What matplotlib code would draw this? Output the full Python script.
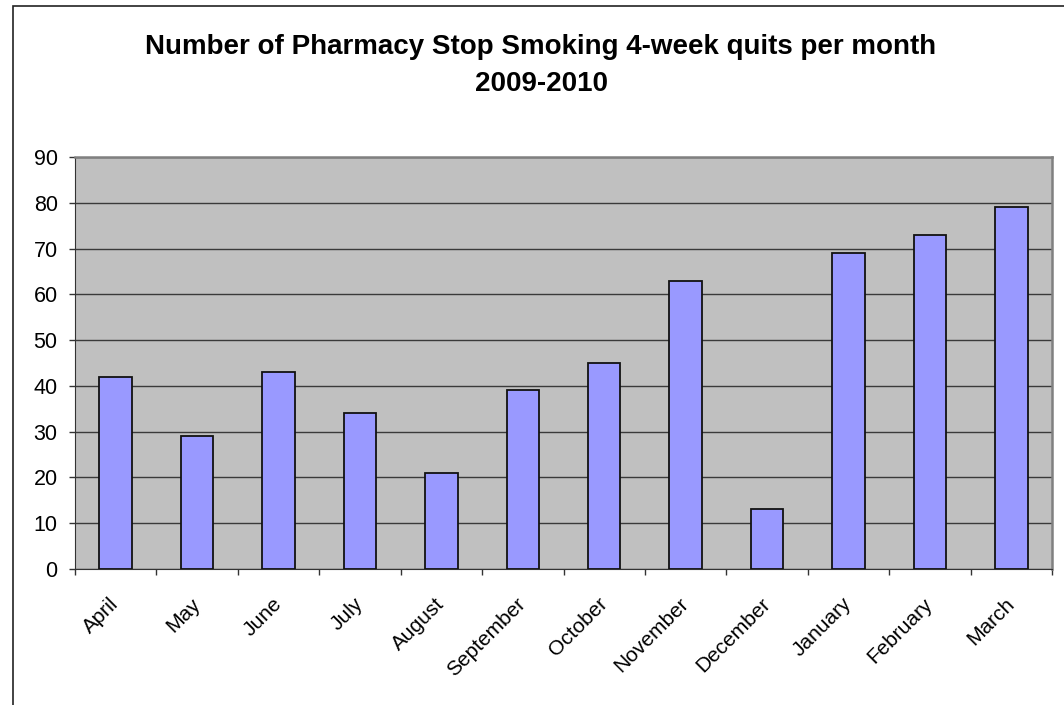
import matplotlib
matplotlib.use("Agg")
import matplotlib.pyplot as plt
import matplotlib.transforms as mtransforms
from matplotlib.patches import Rectangle
from matplotlib.ticker import FixedLocator, NullFormatter

months = ["April", "May", "June", "July", "August", "September",
          "October", "November", "December", "January", "February", "March"]
quits = [42, 29, 43, 34, 21, 39, 45, 63, 13, 69, 73, 79]
yticks = list(range(0, 91, 10))

plt.rcParams["font.family"] = ["Liberation Sans", "DejaVu Sans"]

W, H = 1064, 705
fig = plt.figure(figsize=(W / 100, H / 100), dpi=100)

# outer chart frame (right and bottom edges fall outside the image)
fig.patches.append(Rectangle((13 / W, -0.05), 1.1, 1.05 - 6 / H,
                             transform=fig.transFigure, fill=False,
                             edgecolor="#222222", linewidth=1.2))

ax = fig.add_axes([75 / W, 1 - 569 / H, (1052 - 75) / W, (569 - 157) / H])
ax.set_facecolor("#c0c0c0")
x = list(range(len(months)))
ax.bar(x, quits, width=0.4, color="#9999ff", edgecolor="#111111",
       linewidth=1.3, zorder=3)

ax.set_xlim(-0.5, len(months) - 0.5)
ax.set_ylim(0, 90)
ax.set_yticks(yticks)
ax.yaxis.grid(True, color="#3a3a3a", linewidth=1.0, zorder=1)
ax.tick_params(axis="y", labelsize=15.5, length=4.5, width=1,
               color="#333333", pad=8)

# category boundaries carry the ticks, labels sit at the bar centres
ax.xaxis.set_major_locator(FixedLocator([i - 0.5 for i in range(len(months) + 1)]))
ax.xaxis.set_major_formatter(NullFormatter())
ax.xaxis.set_minor_locator(FixedLocator(x))
labels = ax.set_xticklabels(months, minor=True, rotation=45, ha="right",
                            va="center", rotation_mode="anchor", fontsize=15)
shift = mtransforms.ScaledTranslation(-19 / 100, 0, fig.dpi_scale_trans)
for lab in labels:
    lab.set_transform(lab.get_transform() + shift)
ax.tick_params(axis="x", which="major", length=4.5, width=1, color="#333333")
ax.tick_params(axis="x", which="minor", length=0, pad=23)

for side in ["top", "right"]:
    ax.spines[side].set_color("#808080")
    ax.spines[side].set_linewidth(1.8)
ax.spines["left"].set_color("#333333")
ax.spines["bottom"].set_color("#333333")

fig.text(541 / W, 1 - 54 / H,
         "Number of Pharmacy Stop Smoking 4-week quits per month",
         ha="center", va="baseline", fontsize=20, fontweight="bold")
fig.text(541 / W, 1 - 91 / H, "2009-2010",
         ha="center", va="baseline", fontsize=20, fontweight="bold")

fig.savefig("out.png", dpi=100)
